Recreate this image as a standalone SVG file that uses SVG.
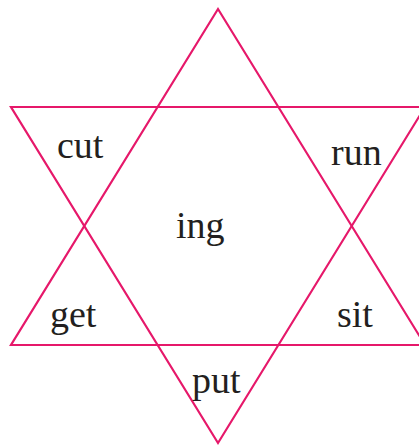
<svg xmlns="http://www.w3.org/2000/svg" width="419" height="446" viewBox="0 0 419 446">
<style>
.tri{fill:none;stroke:#E6186A;stroke-width:2.2;stroke-linejoin:miter}
.lbl{font-family:"Liberation Serif",serif;font-size:38px;fill:#231F20}
</style>
<rect width="419" height="446" fill="#fff"/>
<g id="connectors">
<polygon id="up" class="tri" points="218,9 11,345 425,345"/>
<polygon id="down" class="tri" points="218,443 11,107 425,107"/>
</g>
<g id="cut"><text class="lbl" x="57" y="158">cut</text></g>
<g id="run"><text class="lbl" x="331" y="165">run</text></g>
<g id="ing"><text class="lbl" x="176" y="238">ing</text></g>
<g id="get"><text class="lbl" x="50" y="327">get</text></g>
<g id="sit"><text class="lbl" x="337" y="327">sit</text></g>
<g id="put"><text class="lbl" x="192" y="393">put</text></g>
</svg>
